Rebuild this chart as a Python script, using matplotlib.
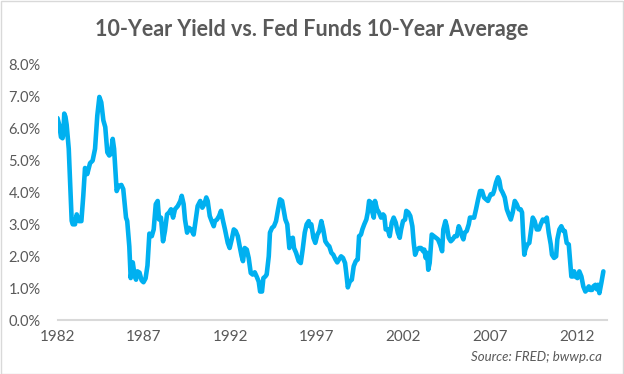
import numpy as np
import matplotlib
matplotlib.use("Agg")
import matplotlib.pyplot as plt
from matplotlib.patches import Rectangle

# decimal year, percent
years = [
    1982.00, 1982.10, 1982.20, 1982.29, 1982.34, 1982.39, 1982.46, 1982.53, 1982.65, 1982.72,
    1982.82, 1982.88, 1983.01, 1983.11, 1983.23, 1983.38, 1983.49, 1983.59, 1983.72, 1983.88,
    1984.03, 1984.17, 1984.30, 1984.42, 1984.53, 1984.65, 1984.76, 1984.88, 1984.99, 1985.08,
    1985.19, 1985.27, 1985.42, 1985.54, 1985.69, 1985.80, 1985.96, 1986.03, 1986.15, 1986.23,
    1986.35, 1986.46, 1986.54, 1986.62, 1986.74, 1986.86, 1986.97, 1987.09, 1987.20, 1987.31,
    1987.45, 1987.56, 1987.68, 1987.79, 1987.87, 1987.98, 1988.10, 1988.21, 1988.33, 1988.45,
    1988.56, 1988.68, 1988.79, 1988.95, 1989.10, 1989.18, 1989.29, 1989.37, 1989.49, 1989.60,
    1989.72, 1989.87, 1989.99, 1990.10, 1990.25, 1990.37, 1990.49, 1990.60, 1990.68, 1990.80,
    1990.91, 1991.03, 1991.10, 1991.22, 1991.34, 1991.45, 1991.57, 1991.68, 1991.84, 1991.95,
    1992.07, 1992.19, 1992.30, 1992.42, 1992.53, 1992.64, 1992.72, 1992.82, 1992.94, 1993.05,
    1993.17, 1993.28, 1993.40, 1993.51, 1993.63, 1993.71, 1993.82, 1993.90, 1994.01, 1994.09,
    1994.21, 1994.28, 1994.40, 1994.51, 1994.63, 1994.75, 1994.86, 1994.98, 1995.05, 1995.17,
    1995.28, 1995.40, 1995.48, 1995.60, 1995.67, 1995.79, 1995.94, 1996.06, 1996.17, 1996.29,
    1996.40, 1996.52, 1996.60, 1996.67, 1996.79, 1996.90, 1997.02, 1997.13, 1997.25, 1997.36,
    1997.48, 1997.60, 1997.71, 1997.83, 1997.94, 1998.06, 1998.17, 1998.27, 1998.39, 1998.50,
    1998.62, 1998.69, 1998.78, 1998.89, 1999.01, 1999.12, 1999.24, 1999.35, 1999.43, 1999.54,
    1999.62, 1999.73, 1999.85, 1999.93, 2000.01, 2000.12, 2000.20, 2000.28, 2000.35, 2000.47,
    2000.58, 2000.70, 2000.82, 2000.89, 2000.97, 2001.09, 2001.20, 2001.32, 2001.43, 2001.55,
    2001.67, 2001.78, 2001.86, 2001.97, 2002.09, 2002.16, 2002.28, 2002.39, 2002.51, 2002.59,
    2002.67, 2002.78, 2002.90, 2003.01, 2003.13, 2003.20, 2003.28, 2003.36, 2003.43, 2003.51,
    2003.63, 2003.75, 2003.88, 2003.99, 2004.11, 2004.23, 2004.30, 2004.42, 2004.50, 2004.61,
    2004.73, 2004.84, 2004.96, 2005.08, 2005.19, 2005.27, 2005.38, 2005.46, 2005.54, 2005.65,
    2005.77, 2005.84, 2005.96, 2006.08, 2006.19, 2006.31, 2006.42, 2006.54, 2006.65, 2006.77,
    2006.88, 2006.96, 2007.04, 2007.16, 2007.23, 2007.35, 2007.46, 2007.54, 2007.62, 2007.73,
    2007.85, 2007.97, 2008.08, 2008.20, 2008.31, 2008.43, 2008.54, 2008.66, 2008.77, 2008.85,
    2008.91, 2008.98, 2009.04, 2009.16, 2009.27, 2009.39, 2009.47, 2009.58, 2009.70, 2009.82,
    2009.93, 2010.05, 2010.16, 2010.28, 2010.39, 2010.51, 2010.58, 2010.70, 2010.82, 2010.89,
    2011.01, 2011.12, 2011.24, 2011.32, 2011.43, 2011.55, 2011.62, 2011.70, 2011.78, 2011.86,
    2011.93, 2012.05, 2012.16, 2012.28, 2012.39, 2012.51, 2012.59, 2012.71, 2012.78, 2012.90,
    2012.97, 2013.09, 2013.17, 2013.24, 2013.32, 2013.43, 2013.55,
]
spread = [
    6.31, 6.10, 5.72, 5.68, 5.80, 6.45, 6.35, 6.10, 5.35, 4.40,
    3.10, 2.99, 2.99, 3.30, 3.09, 3.09, 3.88, 4.75, 4.56, 4.90,
    4.98, 5.35, 6.39, 6.97, 6.80, 6.24, 6.03, 5.24, 5.14, 5.19,
    5.66, 5.35, 4.03, 4.19, 4.22, 4.09, 3.20, 3.09, 2.30, 1.31,
    1.80, 1.38, 1.26, 1.52, 1.48, 1.24, 1.18, 1.30, 1.70, 2.70,
    2.62, 2.83, 3.62, 3.72, 3.14, 3.20, 2.46, 2.78, 3.30, 3.36,
    3.46, 3.20, 3.46, 3.56, 3.72, 3.88, 3.62, 3.14, 2.73, 2.88,
    2.83, 2.67, 3.14, 3.56, 3.72, 3.51, 3.62, 3.83, 3.72, 3.25,
    3.09, 2.93, 3.09, 3.14, 3.25, 3.41, 3.09, 2.83, 2.41, 2.25,
    2.52, 2.83, 2.78, 2.62, 2.30, 2.00, 1.84, 2.25, 2.20, 1.94,
    1.47, 1.42, 1.49, 1.36, 1.20, 0.89, 0.89, 1.31, 1.36, 1.42,
    1.99, 2.73, 2.88, 2.93, 3.09, 3.46, 3.77, 3.72, 3.51, 3.14,
    2.99, 2.25, 2.52, 2.57, 2.25, 2.10, 1.84, 1.78, 2.20, 2.73,
    2.99, 3.09, 2.93, 2.99, 2.57, 2.41, 2.67, 2.78, 3.09, 2.83,
    2.46, 2.36, 2.30, 2.10, 2.04, 1.90, 1.80, 1.89, 1.99, 1.94,
    1.78, 1.47, 1.02, 1.20, 1.26, 1.68, 1.84, 1.89, 2.62, 2.67,
    2.83, 2.99, 3.14, 3.36, 3.72, 3.67, 3.36, 3.20, 3.72, 3.46,
    3.36, 3.20, 3.30, 3.25, 2.83, 2.83, 2.62, 3.04, 3.20, 3.04,
    2.73, 2.57, 2.83, 3.09, 3.14, 3.41, 3.36, 3.25, 2.93, 2.41,
    2.04, 2.20, 2.25, 2.25, 2.15, 2.20, 1.94, 2.10, 1.57, 1.78,
    2.67, 2.62, 2.57, 2.52, 2.36, 2.15, 2.83, 3.09, 2.93, 2.57,
    2.46, 2.52, 2.62, 2.62, 2.93, 2.83, 2.62, 2.52, 2.73, 2.78,
    2.99, 3.20, 3.20, 3.20, 3.46, 3.77, 4.03, 4.03, 3.83, 3.77,
    3.72, 3.83, 3.93, 3.93, 4.03, 4.30, 4.46, 4.35, 4.09, 3.98,
    3.83, 3.46, 3.30, 3.14, 3.36, 3.72, 3.62, 3.46, 3.46, 3.36,
    2.70, 2.04, 2.20, 2.36, 2.41, 2.88, 3.20, 3.09, 2.83, 2.83,
    2.99, 3.14, 3.09, 3.20, 2.73, 2.36, 2.04, 1.94, 1.99, 2.52,
    2.83, 2.93, 2.78, 2.78, 2.41, 2.36, 1.89, 1.36, 1.36, 1.52,
    1.36, 1.31, 1.52, 1.36, 1.05, 0.89, 0.94, 1.05, 0.94, 0.94,
    1.05, 1.10, 0.96, 1.10, 0.84, 1.15, 1.52,
]
tick_years = [1982, 1987, 1992, 1997, 2002, 2007, 2012]
y_ticks = [0, 1, 2, 3, 4, 5, 6, 7, 8]

title = "10-Year Yield vs. Fed Funds 10-Year Average"
source = "Source: FRED; bwwp.ca"

plt.rcParams['font.family'] = ['Lato', 'DejaVu Sans']
text_color = '#595959'

fig = plt.figure(figsize=(6.24, 3.74), dpi=100)
ax = fig.add_axes([57.5 / 624, 54 / 374, (607 - 57.5) / 624, 256 / 374])

ax.plot(years, spread, color='#00B0F0', lw=3.3, solid_joinstyle='round', solid_capstyle='round')

ax.set_xlim(1982.0, 2013.76)
ax.set_ylim(0, 8)
ax.set_xticks(tick_years)
ax.set_xticklabels([str(y) for y in tick_years], fontsize=11, color=text_color)
ax.set_yticks(y_ticks)
ax.set_yticklabels([f"{v:.1f}%" for v in y_ticks], fontsize=10.5, color=text_color)
ax.tick_params(axis='both', length=0)
ax.tick_params(axis='y', pad=12)
ax.tick_params(axis='x', pad=7)

for side in ['top', 'right', 'left']:
    ax.spines[side].set_visible(False)
ax.spines['bottom'].set_color('#D9D9D9')
ax.spines['bottom'].set_linewidth(1.5)

fig.text(0.5, 1 - 30 / 374, title, ha='center', va='center', fontsize=15.5,
         fontweight='bold', color=text_color)
fig.text(602 / 624, 1 - 357 / 374, source, ha='right', va='center', fontsize=9.5,
         style='italic', color=text_color)

# chart border like the Excel frame
fig.patches.append(Rectangle((0.5 / 624, 0.5 / 374), 622.5 / 624, 372.5 / 374,
                             transform=fig.transFigure, fill=False,
                             edgecolor='#D9D9D9', lw=1))

fig.savefig('out.png', dpi=100, facecolor='white')
